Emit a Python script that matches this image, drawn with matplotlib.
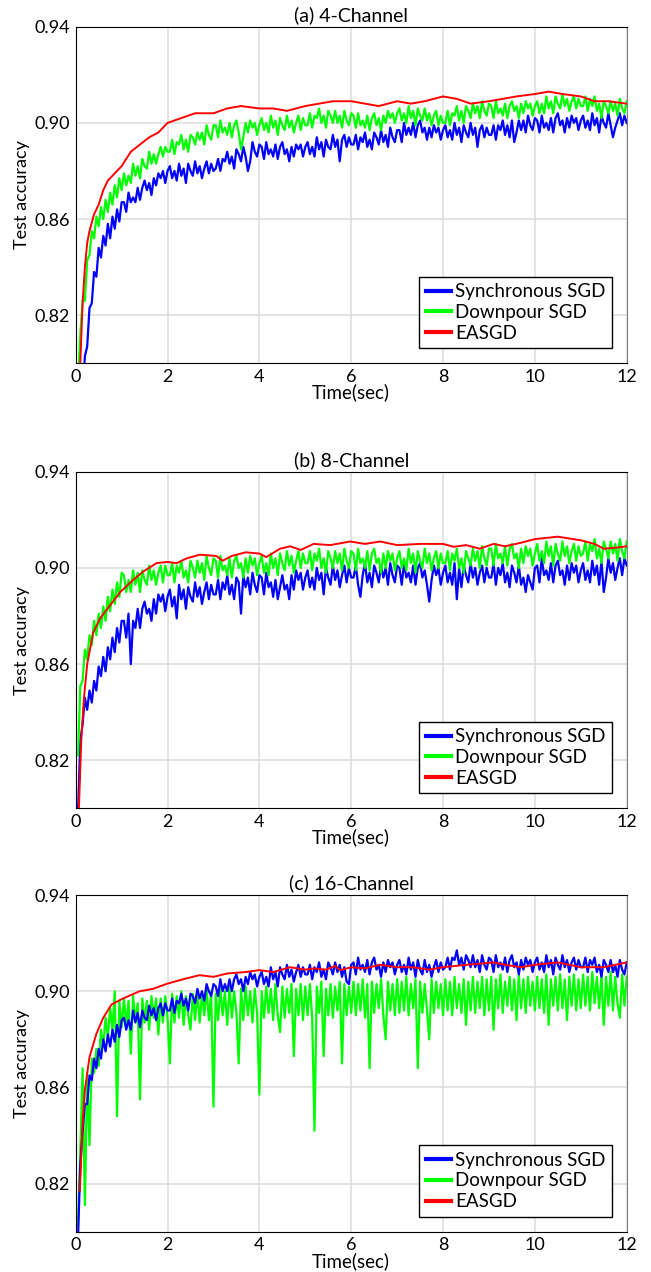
import numpy as np
import matplotlib
matplotlib.use("Agg")
import matplotlib.pyplot as plt

plt.rcParams['font.family'] = ['Lato', 'DejaVu Sans']

# sample times of the noisy curves (seconds), one value every 0.05 s
t = np.round(np.arange(1, 241) * 0.05, 2)

# ---------------- (a) 4-Channel ----------------
sync_4 = [
    0.768, 0.782, 0.787, 0.803, 0.807, 0.823, 0.825, 0.838, 0.836, 0.848, 0.844, 0.853, 0.849, 0.858, 0.852, 0.861, 0.856, 0.864, 0.859, 0.867,
    0.867, 0.863, 0.871, 0.867, 0.869, 0.867, 0.873, 0.868, 0.873, 0.876, 0.872, 0.875, 0.870, 0.877, 0.874, 0.879, 0.877, 0.880, 0.875, 0.880,
    0.882, 0.877, 0.880, 0.876, 0.883, 0.878, 0.881, 0.875, 0.883, 0.880, 0.878, 0.884, 0.879, 0.882, 0.877, 0.881, 0.884, 0.879, 0.883, 0.880,
    0.881, 0.885, 0.880, 0.885, 0.884, 0.888, 0.883, 0.886, 0.881, 0.889, 0.887, 0.884, 0.890, 0.886, 0.880, 0.884, 0.892, 0.888, 0.886, 0.891,
    0.890, 0.885, 0.892, 0.887, 0.889, 0.886, 0.891, 0.885, 0.890, 0.892, 0.887, 0.889, 0.884, 0.890, 0.886, 0.891, 0.889, 0.891, 0.886, 0.890,
    0.892, 0.887, 0.890, 0.886, 0.894, 0.889, 0.892, 0.886, 0.893, 0.890, 0.889, 0.895, 0.890, 0.893, 0.884, 0.893, 0.895, 0.890, 0.894, 0.891,
    0.891, 0.895, 0.889, 0.894, 0.892, 0.896, 0.890, 0.893, 0.889, 0.896, 0.894, 0.891, 0.897, 0.892, 0.895, 0.890, 0.898, 0.894, 0.892, 0.897,
    0.897, 0.892, 0.900, 0.895, 0.898, 0.895, 0.900, 0.894, 0.899, 0.901, 0.896, 0.898, 0.893, 0.898, 0.894, 0.899, 0.896, 0.898, 0.893, 0.897,
    0.899, 0.894, 0.897, 0.893, 0.900, 0.895, 0.898, 0.892, 0.899, 0.896, 0.894, 0.900, 0.895, 0.898, 0.890, 0.897, 0.899, 0.894, 0.898, 0.895,
    0.895, 0.899, 0.893, 0.899, 0.897, 0.901, 0.895, 0.899, 0.894, 0.901, 0.892, 0.896, 0.901, 0.897, 0.901, 0.896, 0.903, 0.899, 0.897, 0.902,
    0.901, 0.896, 0.903, 0.898, 0.900, 0.897, 0.902, 0.896, 0.902, 0.904, 0.899, 0.901, 0.896, 0.902, 0.898, 0.903, 0.900, 0.902, 0.897, 0.901,
    0.903, 0.898, 0.901, 0.897, 0.904, 0.899, 0.902, 0.896, 0.903, 0.900, 0.898, 0.904, 0.899, 0.894, 0.898, 0.901, 0.904, 0.899, 0.903, 0.900,
]
down_4 = [
    0.792, 0.812, 0.826, 0.826, 0.843, 0.845, 0.855, 0.852, 0.861, 0.857, 0.865, 0.860, 0.868, 0.863, 0.871, 0.866, 0.874, 0.869, 0.877, 0.872,
    0.879, 0.874, 0.878, 0.875, 0.883, 0.878, 0.882, 0.877, 0.885, 0.882, 0.881, 0.888, 0.883, 0.887, 0.883, 0.887, 0.890, 0.886, 0.890, 0.888,
    0.888, 0.893, 0.887, 0.892, 0.891, 0.895, 0.889, 0.893, 0.888, 0.895, 0.894, 0.891, 0.896, 0.893, 0.896, 0.891, 0.899, 0.895, 0.893, 0.899,
    0.899, 0.894, 0.901, 0.896, 0.898, 0.895, 0.900, 0.894, 0.899, 0.901, 0.896, 0.889, 0.894, 0.900, 0.896, 0.901, 0.898, 0.900, 0.895, 0.899,
    0.902, 0.897, 0.900, 0.896, 0.903, 0.898, 0.901, 0.895, 0.902, 0.899, 0.897, 0.903, 0.898, 0.901, 0.896, 0.900, 0.903, 0.897, 0.902, 0.899,
    0.899, 0.904, 0.898, 0.903, 0.902, 0.906, 0.900, 0.903, 0.898, 0.905, 0.903, 0.900, 0.905, 0.900, 0.903, 0.898, 0.905, 0.901, 0.899, 0.904,
    0.903, 0.898, 0.904, 0.899, 0.901, 0.898, 0.903, 0.897, 0.902, 0.904, 0.899, 0.902, 0.897, 0.903, 0.900, 0.905, 0.902, 0.904, 0.900, 0.904,
    0.906, 0.901, 0.904, 0.900, 0.907, 0.902, 0.905, 0.899, 0.906, 0.903, 0.901, 0.906, 0.901, 0.904, 0.899, 0.903, 0.905, 0.899, 0.903, 0.900,
    0.900, 0.905, 0.899, 0.904, 0.903, 0.907, 0.901, 0.905, 0.900, 0.907, 0.905, 0.902, 0.908, 0.904, 0.907, 0.902, 0.909, 0.905, 0.903, 0.908,
    0.907, 0.902, 0.909, 0.904, 0.906, 0.903, 0.908, 0.902, 0.907, 0.909, 0.905, 0.907, 0.902, 0.908, 0.904, 0.909, 0.906, 0.908, 0.903, 0.907,
    0.909, 0.904, 0.908, 0.904, 0.911, 0.906, 0.909, 0.904, 0.911, 0.908, 0.906, 0.912, 0.907, 0.910, 0.905, 0.909, 0.911, 0.906, 0.910, 0.907,
    0.907, 0.911, 0.905, 0.910, 0.907, 0.911, 0.905, 0.908, 0.902, 0.909, 0.907, 0.904, 0.909, 0.905, 0.908, 0.903, 0.910, 0.906, 0.904, 0.909,
]
ea_t_4 = [0.1, 0.15, 0.2, 0.25, 0.3, 0.4, 0.5, 0.6, 0.7, 0.8, 1.0, 1.2, 1.4, 1.6,
          1.8, 2.0, 2.3, 2.6, 3.0, 3.3, 3.6, 4.0, 4.3, 4.6, 5.0, 5.3, 5.6, 6.0,
          6.3, 6.6, 7.0, 7.3, 7.6, 8.0, 8.3, 8.6, 9.0, 9.3, 9.6, 10.0, 10.3,
          10.6, 11.0, 11.3, 11.6, 12.0]
ea_4 = [0.800, 0.825, 0.840, 0.850, 0.855, 0.862, 0.866, 0.872, 0.876, 0.878,
        0.882, 0.888, 0.891, 0.894, 0.896, 0.900, 0.902, 0.904, 0.904, 0.906,
        0.907, 0.906, 0.906, 0.905, 0.907, 0.908, 0.909, 0.909, 0.908, 0.907,
        0.909, 0.908, 0.909, 0.911, 0.910, 0.908, 0.909, 0.910, 0.911, 0.912,
        0.913, 0.912, 0.911, 0.909, 0.909, 0.908]

# ---------------- (b) 8-Channel ----------------
sync_8 = [
    0.798, 0.828, 0.835, 0.846, 0.841, 0.849, 0.844, 0.853, 0.849, 0.859, 0.855, 0.863, 0.857, 0.867, 0.862, 0.871, 0.865, 0.875, 0.869, 0.878,
    0.878, 0.871, 0.881, 0.860, 0.878, 0.875, 0.883, 0.875, 0.883, 0.886, 0.881, 0.883, 0.878, 0.887, 0.881, 0.889, 0.886, 0.889, 0.882, 0.888,
    0.891, 0.884, 0.888, 0.879, 0.893, 0.887, 0.891, 0.883, 0.892, 0.888, 0.886, 0.894, 0.888, 0.892, 0.885, 0.890, 0.894, 0.887, 0.893, 0.889,
    0.889, 0.895, 0.887, 0.894, 0.891, 0.897, 0.889, 0.893, 0.887, 0.896, 0.894, 0.881, 0.897, 0.892, 0.896, 0.889, 0.898, 0.893, 0.890, 0.897,
    0.896, 0.889, 0.898, 0.892, 0.894, 0.888, 0.895, 0.887, 0.892, 0.897, 0.891, 0.893, 0.887, 0.897, 0.891, 0.899, 0.895, 0.898, 0.891, 0.896,
    0.899, 0.892, 0.896, 0.891, 0.900, 0.895, 0.898, 0.889, 0.900, 0.896, 0.893, 0.901, 0.895, 0.899, 0.892, 0.897, 0.901, 0.894, 0.900, 0.896,
    0.896, 0.901, 0.893, 0.888, 0.897, 0.902, 0.894, 0.898, 0.892, 0.901, 0.898, 0.894, 0.901, 0.896, 0.900, 0.893, 0.902, 0.897, 0.894, 0.901,
    0.900, 0.893, 0.902, 0.896, 0.898, 0.894, 0.901, 0.893, 0.900, 0.902, 0.896, 0.899, 0.893, 0.886, 0.895, 0.901, 0.897, 0.900, 0.893, 0.898,
    0.901, 0.894, 0.898, 0.893, 0.902, 0.887, 0.900, 0.892, 0.901, 0.897, 0.894, 0.902, 0.896, 0.900, 0.893, 0.898, 0.901, 0.894, 0.900, 0.896,
    0.896, 0.902, 0.893, 0.900, 0.897, 0.902, 0.894, 0.898, 0.892, 0.901, 0.898, 0.894, 0.901, 0.893, 0.896, 0.890, 0.897, 0.894, 0.891, 0.900,
    0.901, 0.894, 0.904, 0.897, 0.899, 0.895, 0.902, 0.894, 0.901, 0.903, 0.897, 0.899, 0.893, 0.901, 0.895, 0.902, 0.898, 0.901, 0.894, 0.899,
    0.902, 0.895, 0.899, 0.894, 0.903, 0.897, 0.901, 0.893, 0.903, 0.890, 0.896, 0.904, 0.898, 0.902, 0.895, 0.900, 0.904, 0.897, 0.904, 0.901,
]
down_8 = [
    0.822, 0.851, 0.853, 0.866, 0.862, 0.872, 0.868, 0.878, 0.872, 0.881, 0.875, 0.884, 0.878, 0.888, 0.882, 0.891, 0.885, 0.894, 0.888, 0.898,
    0.897, 0.890, 0.895, 0.890, 0.899, 0.893, 0.898, 0.890, 0.899, 0.895, 0.893, 0.901, 0.895, 0.899, 0.893, 0.898, 0.901, 0.894, 0.901, 0.897,
    0.897, 0.902, 0.894, 0.901, 0.898, 0.903, 0.896, 0.899, 0.894, 0.903, 0.900, 0.896, 0.903, 0.898, 0.902, 0.895, 0.905, 0.900, 0.897, 0.904,
    0.903, 0.896, 0.905, 0.899, 0.901, 0.897, 0.904, 0.896, 0.903, 0.905, 0.900, 0.902, 0.896, 0.904, 0.898, 0.905, 0.901, 0.904, 0.897, 0.902,
    0.905, 0.898, 0.902, 0.897, 0.906, 0.900, 0.904, 0.897, 0.906, 0.902, 0.899, 0.907, 0.901, 0.905, 0.898, 0.903, 0.907, 0.900, 0.906, 0.902,
    0.902, 0.907, 0.899, 0.906, 0.903, 0.908, 0.900, 0.904, 0.898, 0.907, 0.904, 0.900, 0.907, 0.902, 0.906, 0.899, 0.908, 0.903, 0.900, 0.907,
    0.906, 0.899, 0.908, 0.902, 0.904, 0.900, 0.907, 0.899, 0.906, 0.908, 0.902, 0.904, 0.898, 0.906, 0.900, 0.907, 0.903, 0.906, 0.899, 0.904,
    0.907, 0.900, 0.904, 0.899, 0.908, 0.902, 0.906, 0.898, 0.907, 0.903, 0.900, 0.908, 0.902, 0.906, 0.899, 0.904, 0.907, 0.900, 0.906, 0.902,
    0.902, 0.907, 0.899, 0.906, 0.903, 0.908, 0.900, 0.904, 0.898, 0.907, 0.904, 0.901, 0.908, 0.903, 0.907, 0.900, 0.909, 0.904, 0.901, 0.908,
    0.908, 0.901, 0.910, 0.904, 0.906, 0.902, 0.909, 0.901, 0.908, 0.910, 0.904, 0.906, 0.900, 0.908, 0.902, 0.909, 0.905, 0.908, 0.901, 0.906,
    0.910, 0.903, 0.907, 0.902, 0.911, 0.905, 0.909, 0.901, 0.910, 0.906, 0.903, 0.911, 0.905, 0.909, 0.902, 0.907, 0.910, 0.903, 0.909, 0.905,
    0.906, 0.911, 0.903, 0.910, 0.907, 0.912, 0.904, 0.908, 0.902, 0.911, 0.908, 0.904, 0.911, 0.906, 0.910, 0.903, 0.912, 0.907, 0.904, 0.911,
]
ea_t_8 = [0.07, 0.12, 0.18, 0.25, 0.38, 0.53, 0.75, 0.97, 1.25, 1.47, 1.76, 2.0,
          2.2, 2.42, 2.7, 3.06, 3.2, 3.4, 3.7, 4.0, 4.15, 4.45, 4.67, 4.9, 5.18,
          5.54, 5.98, 6.3, 6.63, 7.0, 7.5, 8.0, 8.23, 8.5, 8.8, 9.1, 9.35, 9.7,
          10.0, 10.5, 11.0, 11.3, 11.5, 11.8, 12.0]
ea_8 = [0.800, 0.828, 0.846, 0.860, 0.873, 0.879, 0.8845, 0.890, 0.895, 0.8985,
        0.902, 0.9025, 0.902, 0.904, 0.9055, 0.905, 0.903, 0.905, 0.9065, 0.906,
        0.9045, 0.908, 0.909, 0.9075, 0.910, 0.9095, 0.911, 0.910, 0.911, 0.9095,
        0.910, 0.910, 0.9088, 0.9095, 0.908, 0.910, 0.909, 0.9105, 0.912, 0.913,
        0.9115, 0.910, 0.908, 0.9085, 0.909]

# ---------------- (c) 16-Channel ----------------
sync_16 = [
    0.797, 0.828, 0.842, 0.853, 0.853, 0.865, 0.863, 0.872, 0.868, 0.876, 0.872, 0.880, 0.875, 0.882, 0.877, 0.884, 0.879, 0.886, 0.881, 0.888,
    0.889, 0.884, 0.888, 0.884, 0.892, 0.887, 0.891, 0.885, 0.892, 0.889, 0.888, 0.894, 0.890, 0.893, 0.888, 0.893, 0.895, 0.890, 0.895, 0.892,
    0.892, 0.897, 0.891, 0.896, 0.895, 0.899, 0.894, 0.897, 0.892, 0.899, 0.898, 0.895, 0.901, 0.897, 0.900, 0.896, 0.903, 0.900, 0.898, 0.903,
    0.902, 0.898, 0.905, 0.900, 0.903, 0.900, 0.905, 0.900, 0.905, 0.907, 0.903, 0.905, 0.900, 0.906, 0.903, 0.908, 0.905, 0.907, 0.902, 0.906,
    0.908, 0.903, 0.906, 0.902, 0.910, 0.905, 0.908, 0.902, 0.910, 0.907, 0.905, 0.911, 0.906, 0.909, 0.904, 0.908, 0.911, 0.906, 0.910, 0.907,
    0.907, 0.911, 0.905, 0.910, 0.908, 0.912, 0.906, 0.909, 0.905, 0.912, 0.910, 0.907, 0.912, 0.908, 0.911, 0.906, 0.910, 0.904, 0.903, 0.911,
    0.912, 0.907, 0.914, 0.909, 0.911, 0.908, 0.913, 0.907, 0.912, 0.914, 0.909, 0.911, 0.906, 0.912, 0.908, 0.913, 0.910, 0.912, 0.907, 0.911,
    0.913, 0.908, 0.911, 0.907, 0.914, 0.909, 0.912, 0.906, 0.913, 0.909, 0.907, 0.913, 0.908, 0.911, 0.906, 0.910, 0.913, 0.908, 0.912, 0.909,
    0.910, 0.914, 0.909, 0.914, 0.913, 0.917, 0.911, 0.914, 0.909, 0.915, 0.913, 0.910, 0.915, 0.910, 0.913, 0.908, 0.915, 0.911, 0.909, 0.914,
    0.913, 0.908, 0.915, 0.910, 0.912, 0.909, 0.914, 0.908, 0.913, 0.915, 0.910, 0.912, 0.907, 0.913, 0.909, 0.914, 0.911, 0.913, 0.908, 0.912,
    0.914, 0.909, 0.912, 0.908, 0.915, 0.910, 0.913, 0.907, 0.914, 0.911, 0.909, 0.915, 0.910, 0.913, 0.908, 0.912, 0.914, 0.909, 0.913, 0.910,
    0.910, 0.914, 0.908, 0.913, 0.911, 0.914, 0.908, 0.911, 0.906, 0.913, 0.911, 0.908, 0.913, 0.908, 0.911, 0.906, 0.913, 0.909, 0.907, 0.912,
]
down_16 = [
    0.803, 0.834, 0.868, 0.811, 0.866, 0.836, 0.872, 0.866, 0.876, 0.869, 0.884, 0.877, 0.889, 0.881, 0.893, 0.884, 0.900, 0.848, 0.896, 0.885,
    0.897, 0.886, 0.896, 0.874, 0.898, 0.888, 0.895, 0.855, 0.897, 0.887, 0.896, 0.884, 0.898, 0.889, 0.897, 0.882, 0.897, 0.887, 0.898, 0.889,
    0.870, 0.899, 0.887, 0.898, 0.889, 0.900, 0.886, 0.898, 0.890, 0.884, 0.899, 0.888, 0.900, 0.887, 0.899, 0.890, 0.901, 0.888, 0.900, 0.852,
    0.899, 0.888, 0.901, 0.890, 0.900, 0.886, 0.902, 0.889, 0.900, 0.891, 0.870, 0.901, 0.888, 0.902, 0.890, 0.900, 0.887, 0.901, 0.891, 0.857,
    0.900, 0.889, 0.902, 0.891, 0.901, 0.888, 0.903, 0.890, 0.883, 0.902, 0.889, 0.901, 0.891, 0.903, 0.873, 0.901, 0.890, 0.903, 0.888, 0.902,
    0.890, 0.903, 0.889, 0.842, 0.902, 0.891, 0.904, 0.873, 0.901, 0.890, 0.903, 0.889, 0.902, 0.892, 0.904, 0.870, 0.903, 0.890, 0.902, 0.891,
    0.904, 0.890, 0.903, 0.892, 0.905, 0.889, 0.903, 0.868, 0.904, 0.891, 0.903, 0.893, 0.905, 0.890, 0.880, 0.904, 0.892, 0.903, 0.890, 0.905,
    0.891, 0.904, 0.892, 0.906, 0.890, 0.903, 0.893, 0.905, 0.868, 0.904, 0.891, 0.903, 0.892, 0.880, 0.905, 0.891, 0.904, 0.893, 0.903, 0.890,
    0.905, 0.892, 0.904, 0.890, 0.906, 0.893, 0.903, 0.891, 0.905, 0.886, 0.904, 0.892, 0.906, 0.891, 0.904, 0.893, 0.906, 0.890, 0.905, 0.892,
    0.906, 0.884, 0.905, 0.893, 0.907, 0.891, 0.904, 0.894, 0.906, 0.892, 0.905, 0.888, 0.907, 0.893, 0.905, 0.891, 0.906, 0.894, 0.904, 0.892,
    0.906, 0.893, 0.905, 0.891, 0.907, 0.886, 0.905, 0.894, 0.906, 0.892, 0.907, 0.893, 0.905, 0.888, 0.906, 0.894, 0.907, 0.892, 0.905, 0.893,
    0.907, 0.894, 0.906, 0.892, 0.908, 0.895, 0.906, 0.893, 0.907, 0.886, 0.906, 0.894, 0.908, 0.892, 0.906, 0.895, 0.889, 0.907, 0.894, 0.906,
]
ea_t_16 = [0.09, 0.15, 0.2, 0.3, 0.45, 0.6, 0.78, 1.03, 1.39, 1.68, 2.0, 2.4,
           2.7, 3.0, 3.3, 3.7, 4.0, 4.3, 4.67, 5.0, 5.18, 5.45, 5.65, 5.76, 6.0,
           6.3, 6.63, 7.0, 7.35, 7.7, 8.0, 8.5, 9.1, 9.35, 9.7, 10.0, 10.5,
           11.0, 11.5, 12.0]
ea_16 = [0.817, 0.845, 0.859, 0.8726, 0.8823, 0.889, 0.8945, 0.897, 0.900, 0.901,
         0.9032, 0.9053, 0.9067, 0.906, 0.9074, 0.908, 0.9088, 0.908, 0.910,
         0.909, 0.9095, 0.909, 0.9105, 0.9088, 0.910, 0.9095, 0.911, 0.910,
         0.910, 0.909, 0.910, 0.911, 0.912, 0.911, 0.910, 0.911, 0.912, 0.910,
         0.910, 0.912]

titles = ["(a) 4-Channel", "(b) 8-Channel", "(c) 16-Channel"]
labels = ["Synchronous SGD", "Downpour SGD", "EASGD"]
xticks = [0, 2, 4, 6, 8, 10, 12]
yticks = [0.82, 0.86, 0.90, 0.94]

panels = [
    (sync_4, down_4, ea_t_4, ea_4),
    (sync_8, down_8, ea_t_8, ea_8),
    (sync_16, down_16, ea_t_16, ea_16),
]

BLUE, GREEN, RED = "#0000ff", "#00ff00", "#ff0000"

fig = plt.figure(figsize=(6.51, 12.72), dpi=100)
bottoms = [0.7144, 0.3645, 0.0317]

for i, (sync, down, ea_t, ea) in enumerate(panels):
    ax = fig.add_axes([0.1163, bottoms[i], 0.8464, 0.2646])
    # in the 16-channel run the blue band sits on top of the green one
    zb, zg = (3, 2) if i == 2 else (2, 3)
    lb, = ax.plot(t, sync, color=BLUE, lw=1.6, zorder=zb)
    lg, = ax.plot(t, down, color=GREEN, lw=1.6, zorder=zg)
    lr, = ax.plot(ea_t, ea, color=RED, lw=1.4, zorder=4)

    ax.set_xlim(0, 12)
    ax.set_ylim(0.80, 0.94)
    ax.set_xticks(xticks)
    ax.set_yticks(yticks)
    ax.set_yticklabels([f"{v:.2f}" for v in yticks])
    ax.tick_params(length=0, labelsize=13, pad=4)
    ax.grid(True, color="#dcdcdc", lw=1.1)
    ax.set_axisbelow(True)
    for side in ["top", "left", "bottom"]:
        ax.spines[side].set_color("black")
    ax.spines["right"].set_color("#808080")

    ax.set_title(titles[i], fontsize=14, pad=4)
    ax.set_xlabel("Time(sec)", fontsize=13.5, labelpad=-1)
    ax.set_ylabel("Test accuracy", fontsize=13, labelpad=3)

    leg = ax.legend([lb, lg, lr], labels, loc="lower right", fontsize=13.5,
                    fancybox=False, framealpha=1, edgecolor="black",
                    borderaxespad=0.8, handlelength=1.35, handletextpad=0.2,
                    labelspacing=0.2, borderpad=0.35)
    leg.get_frame().set_linewidth(1.0)
    for ln in leg.get_lines():
        ln.set_linewidth(3)

fig.savefig("out.png", dpi=100)
